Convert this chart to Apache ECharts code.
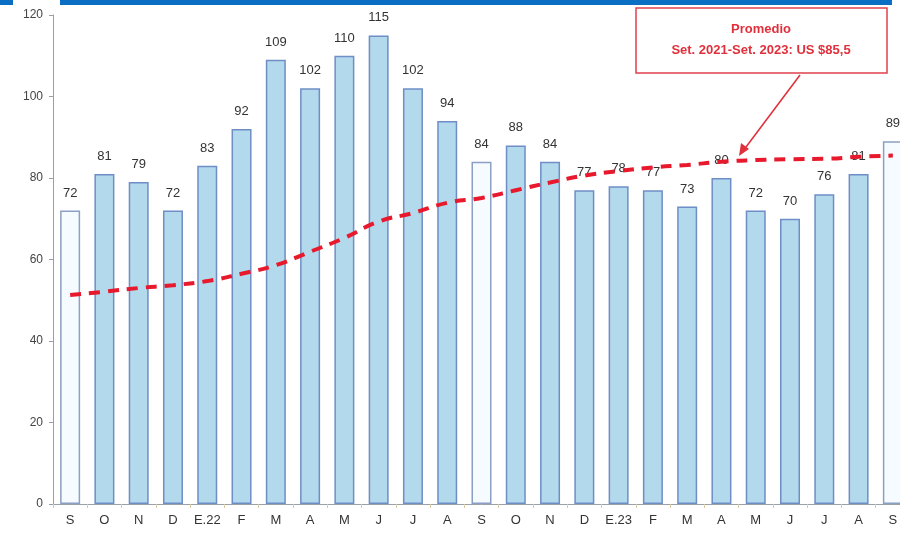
<!DOCTYPE html>
<html><head><meta charset="utf-8">
<script src="https://cdn.jsdelivr.net/npm/echarts@6/dist/echarts.min.js"></script>
<style>html,body{margin:0;padding:0;background:#fff;overflow:hidden;width:900px;height:536px}#c{width:912px;height:536px}</style>
</head><body><div id="c"></div>
<script>
var categories = ['S','O','N','D','E.22','F','M','A','M','J','J','A','S','O','N','D','E.23','F','M','A','M','J','J','A','S'];
var prices = [72,81,79,72,83,92,109,102,110,115,102,94,84,88,84,77,78,77,73,80,72,70,76,81,89];
var average = [51.3,52.1,53.0,53.7,54.7,56.5,58.6,61.9,65.3,69.3,71.4,73.9,75.1,77.0,78.9,80.6,81.7,82.6,83.2,84.0,84.4,84.6,84.7,85.2,85.5];
var yTicks = [0,20,40,60,80,100,120];
var septIdx = [0,12,24];

var chart = echarts.init(document.getElementById('c'));
var font = 'Liberation Sans, Arial, sans-serif';
var barData = prices.map(function(v,i){
  if (septIdx.indexOf(i) >= 0) {
    return {value:v, itemStyle:{color:'#f5fbff', borderColor:'#8c9fc4'}};
  }
  return v;
});
chart.setOption({
  animation:false,
  textStyle:{fontFamily:font},
  grid:{left:53, top:15, bottom:32, width:857, containLabel:false},
  xAxis:{type:'category', data:categories,
    axisLine:{lineStyle:{color:'#9aa0a8', width:1}},
    axisTick:{show:true, length:4, lineStyle:{color:'#d9c9a8'}},
    axisLabel:{color:'#333', fontSize:13, margin:10, fontFamily:font, interval:0}
  },
  yAxis:{type:'value', min:0, max:120, interval:20,
    axisLine:{show:true, lineStyle:{color:'#9aa0a8'}},
    axisTick:{show:true, length:4, lineStyle:{color:'#9aa0a8'}},
    splitLine:{show:false},
    axisLabel:{color:'#444', fontSize:12, margin:10, fontFamily:font,
      formatter:function(v){return yTicks.indexOf(v)>=0 ? String(v) : '';}}
  },
  graphic:[
    {type:'rect', shape:{x:0,y:0,width:13,height:5}, style:{fill:'#0a6fc2'}, z:100},
    {type:'rect', shape:{x:60,y:0,width:832,height:5}, style:{fill:'#0a6fc2'}, z:100},
    {type:'rect', shape:{x:636,y:8,width:251,height:65}, style:{fill:'#fff', stroke:'#e0404c', lineWidth:1.5}, z:100},
    {type:'text', x:761, y:29, style:{text:'Promedio', fill:'#e0303c', font:'bold 13px '+font, textAlign:'center', textVerticalAlign:'middle'}, z:101},
    {type:'text', x:761, y:50, style:{text:'Set. 2021-Set. 2023: US $85,5', fill:'#e0303c', font:'bold 13px '+font, textAlign:'center', textVerticalAlign:'middle'}, z:101},
    {type:'line', shape:{x1:800,y1:75,x2:743,y2:151}, style:{stroke:'#e0303c', lineWidth:1.5}, z:100},
    {type:'polygon', shape:{points:[[739,156],[741,143],[749,149]]}, style:{fill:'#e0303c'}, z:100}
  ],
  series:[
    {type:'bar', data:barData, barWidth:20,
      itemStyle:{color:'#b3d9ec', borderColor:'#6f8ec6', borderWidth:1.5},
      label:{show:true, position:'top', distance:11, color:'#333', fontSize:13, fontFamily:font}
    },
    {type:'line', data:average, smooth:true, symbol:'none', z:5,
      lineStyle:{color:'#e8192c', width:4, type:[11,8]}
    }
  ]
});
</script></body></html>
